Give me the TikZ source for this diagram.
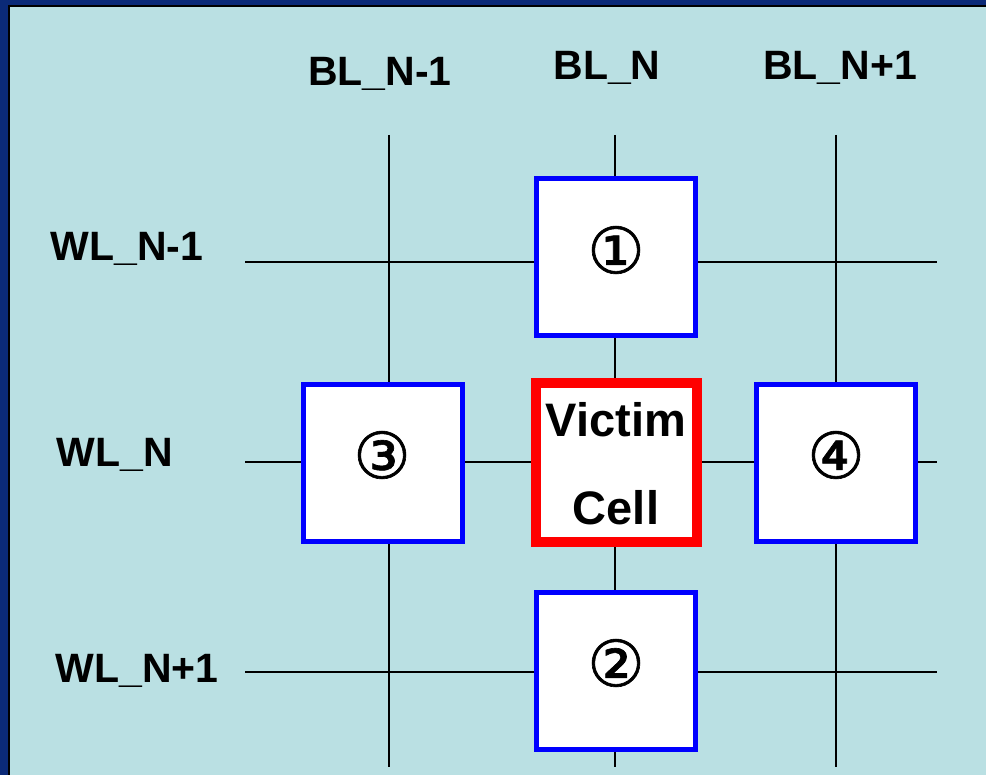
\documentclass[tikz,border=0pt]{standalone}
\usepackage{fontspec}
\setmainfont{Liberation Sans}
\newfontfamily\symfont[FakeBold=1]{DejaVu Sans}
\definecolor{navy}{HTML}{0B2A78}
\definecolor{panel}{HTML}{BAE0E3}
\definecolor{cellblue}{HTML}{0000FF}
\definecolor{cellred}{HTML}{FF0000}
\begin{document}
\begin{tikzpicture}[x=1pt,y=-1pt,
  wire/.style={line width=2.8pt,black},
  cellbox/.style={draw=cellblue,line width=5pt,fill=white,minimum width=159pt,minimum height=157pt,inner sep=0pt},
  victimbox/.style={draw=cellred,line width=10pt,fill=white,minimum width=161pt,minimum height=159pt,inner sep=0pt},
  lbl/.style={font=\fontsize{41}{41}\selectfont\bfseries,inner sep=0pt,anchor=base},
  vlbl/.style={font=\fontsize{47}{47}\selectfont\bfseries,inner sep=0pt,anchor=base},
  num/.style={font=\symfont\fontsize{64}{64}\selectfont,inner sep=0pt}]
\useasboundingbox (0,0) rectangle (986,775);
\fill[navy] (0,0) rectangle (986,775);
\fill[panel] (8,5) rectangle (986,775);
\draw[line width=2pt,black] (9,775) -- (9,6) -- (986,6);
% wire ends
\coordinate (b1t) at (389,135); \coordinate (b1b) at (389,767);
\coordinate (b2t) at (615,135); \coordinate (b2b) at (615,767);
\coordinate (b3t) at (836,135); \coordinate (b3b) at (836,767);
\coordinate (w1l) at (245,262); \coordinate (w1r) at (937,262);
\coordinate (w2l) at (245,462); \coordinate (w2r) at (937,462);
\coordinate (w3l) at (245,672); \coordinate (w3r) at (937,672);
\draw[wire] (b1t) -- (b1b);
\draw[wire] (b2t) -- (b2b);
\draw[wire] (b3t) -- (b3b);
\draw[wire] (w1l) -- (w1r);
\draw[wire] (w2l) -- (w2r);
\draw[wire] (w3l) -- (w3r);
% cells
\node[cellbox] (c1) at (616,257.5) {};
\node[cellbox] (c2) at (616,671) {};
\node[cellbox] (c3) at (383,463.5) {};
\node[cellbox] (c4) at (835.5,463.5) {};
\node[victimbox] (v) at (616,463) {};
\node[vlbl] (vt1) at (616,437) {Victim};
\node[vlbl] (vt2) at (616,525) {Cell};
\node[num] (n1) at (616,250) {①};
\node[num] (n2) at (616,663) {②};
\node[num] (n3) at (382,455) {③};
\node[num] (n4) at (836,455) {④};
% labels
\node[lbl] (lb1) at (380,86) {BL\_N-1};
\node[lbl] (lb2) at (607,80) {BL\_N};
\node[lbl] (lb3) at (840,80) {BL\_N+1};
\node[lbl] (lw1) at (127,261) {WL\_N-1};
\node[lbl] (lw2) at (115,467) {WL\_N};
\node[lbl] (lw3) at (137,682) {WL\_N+1};
\end{tikzpicture}
\end{document}
